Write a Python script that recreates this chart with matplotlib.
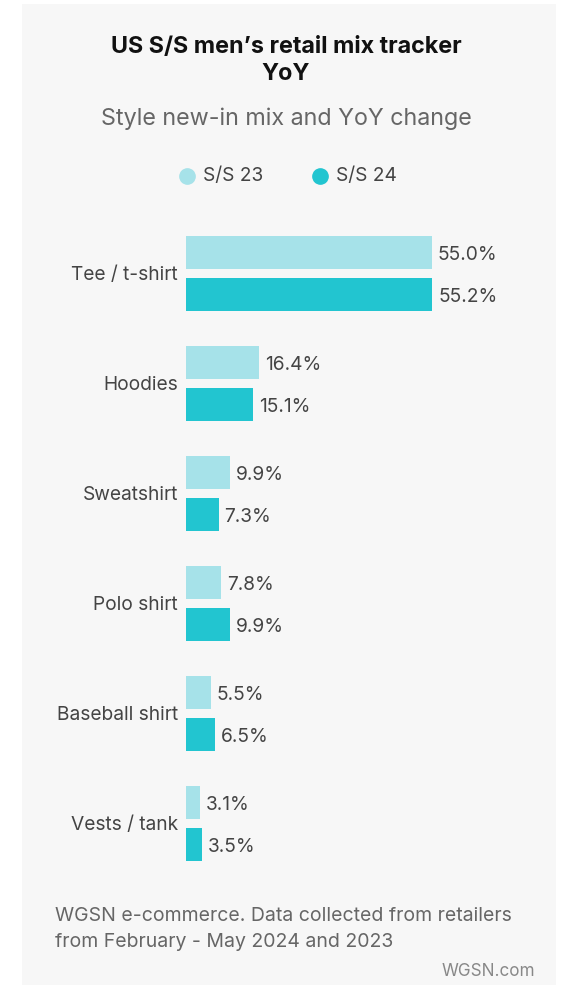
import matplotlib.pyplot as plt
from matplotlib.patches import Rectangle
from matplotlib.lines import Line2D
import numpy as np

categories = ["Tee / t-shirt", "Hoodies", "Sweatshirt", "Polo shirt", "Baseball shirt", "Vests / tank"]
ss23 = [55.0, 16.4, 9.9, 7.8, 5.5, 3.1]
ss24 = [55.2, 15.1, 7.3, 9.9, 6.5, 3.5]
series_names = ["S/S 23", "S/S 24"]

c23 = "#a6e2e9"
c24 = "#22c5d0"
W, H = 565, 985

plt.rcParams['font.family'] = ['Inter', 'DejaVu Sans']

fig = plt.figure(figsize=(W / 100, H / 100), dpi=100)
fig.patch.set_facecolor("white")
fig.add_artist(Rectangle((22 / W, 0), (556 - 22) / W, (H - 4) / H,
                         transform=fig.transFigure, facecolor="#f7f7f7",
                         edgecolor="none", zorder=-5))

def fx(px):
    return px / W

def fy(py):
    return 1 - py / H

# titles
fig.text(fx(286), fy(47), "US S/S men\u2019s retail mix tracker", ha="center", va="center",
         fontsize=16.8, fontweight="bold", color="#111111")
fig.text(fx(286), fy(74), "YoY", ha="center", va="center",
         fontsize=16.8, fontweight="bold", color="#111111")
fig.text(fx(286), fy(119), "Style new-in mix and YoY change", ha="center", va="center",
         fontsize=16.8, color="#666666")

# legend
for name, col, cx in zip(series_names, [c23, c24], [187, 320]):
    fig.add_artist(Line2D([fx(cx)], [fy(176)], transform=fig.transFigure, marker="o",
                          markersize=11, color=col, linestyle="none"))
    fig.text(fx(cx + 16), fy(176), name, ha="left", va="center", fontsize=13.8, color="#444444")

# bar axes
scale = 246 / 55.1
ax_left, ax_right = 186, 556
ax = fig.add_axes([fx(ax_left), fy(878.5), (ax_right - ax_left) / W, 660 / H])
ax.set_facecolor("none")
ax.set_xlim(0, (ax_right - ax_left) / scale)
ax.set_ylim(5.5, -0.5)

y = np.arange(len(categories))
off = 21 / 110
h = 33 / 110
nudge = 2.5 / 110
ax.barh(y - off, ss23, height=h, color=c23)
ax.barh(y + off, ss24, height=h, color=c24)
pad = 6 / scale
for i in range(len(categories)):
    ax.text(ss23[i] + pad, y[i] - off + nudge, f"{ss23[i]:.1f}%", ha="left", va="center",
            fontsize=13.8, color="#444444")
    ax.text(ss24[i] + pad, y[i] + off + nudge, f"{ss24[i]:.1f}%", ha="left", va="center",
            fontsize=13.8, color="#444444")
    ax.text(-8 / scale, y[i] + nudge / 2, categories[i], ha="right", va="center",
            fontsize=13.8, color="#444444")

ax.axis("off")

# footer
fig.text(fx(55), fy(916), "WGSN e-commerce. Data collected from retailers", ha="left", va="center",
         fontsize=14, color="#666666")
fig.text(fx(55), fy(942), "from February - May 2024 and 2023", ha="left", va="center",
         fontsize=14, color="#666666")
fig.text(fx(535), fy(971), "WGSN.com", ha="right", va="center", fontsize=12.3, color="#888888")

fig.savefig("out.png", dpi=100)
